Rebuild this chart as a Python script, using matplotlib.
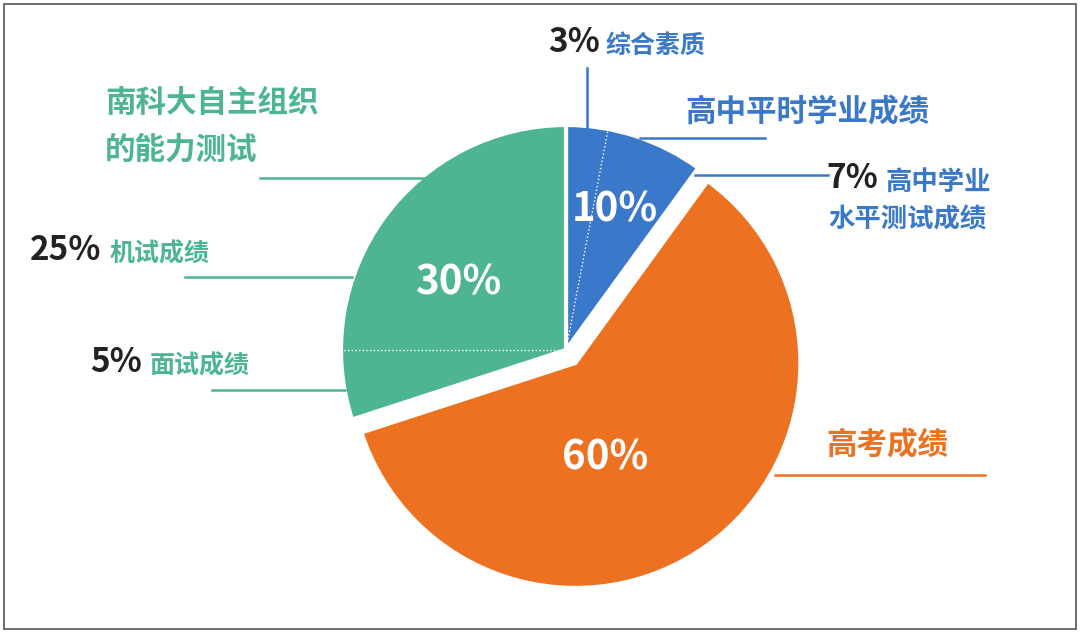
import matplotlib
matplotlib.use("Agg")
import matplotlib.pyplot as plt
from matplotlib.patches import Rectangle
import numpy as np

plt.rcParams["font.family"] = "Noto Sans CJK SC"

shares = [10, 60, 30]
share_labels = ["10%", "60%", "30%"]
colors = ["#3a78c9", "#ec7120", "#4db592"]
sub_splits = [3, 25]

H = 633
fig = plt.figure(figsize=(10.8, 6.33), dpi=100)
ax = fig.add_axes([0, 0, 1, 1])
ax.add_patch(Rectangle((4, 4), 1072, H - 8, fill=False, ec="#555555", lw=1.2))

cx, cy, r = 566, H - 350, 225
wedges, texts = ax.pie(shares, colors=colors, startangle=90, counterclock=False,
                       center=(cx, cy), radius=r, explode=[0, 16, 0],
                       wedgeprops=dict(lw=3, edgecolor="white"), frame=True)
ax.set_xlim(0, 1080); ax.set_ylim(0, H); ax.set_aspect("equal"); ax.axis("off")

a1 = np.deg2rad(90 - sub_splits[0] * 3.6)
ax.plot([cx, cx + r * np.cos(a1)], [cy, cy + r * np.sin(a1)], ls=":", color="white", lw=1)
ax.plot([cx, cx - r], [cy, cy], ls=":", color="white", lw=1)

pct_pos = [(615, 210), (605, 458), (458, 283)]
for (x, y), t in zip(pct_pos, share_labels):
    ax.text(x, H - y, t, color="white", fontsize=29, fontweight="bold", ha="center", va="center")

def line(x0, x1, y, c):
    ax.plot([x0, x1], [H - y, H - y], color=c, lw=1.8)

G, B, O, K = "#4db592", "#3a78c9", "#ec7120", "#222222"
fs = 22
pf = 24
ax.text(105, H - 103, "南科大自主组织", color=G, fontsize=fs, fontweight="bold", va="center")
ax.text(105, H - 150, "的能力测试", color=G, fontsize=fs, fontweight="bold", va="center")
line(260, 430, 178, G)
ax.text(30, H - 250, "25%", color=K, fontsize=pf, fontweight="bold", va="center")
ax.text(110, H - 254, "机试成绩", color=G, fontsize=18, fontweight="bold", va="center")
line(185, 352, 277, G)
ax.text(90, H - 362, "5%", color=K, fontsize=pf, fontweight="bold", va="center")
ax.text(150, H - 366, "面试成绩", color=G, fontsize=18, fontweight="bold", va="center")
line(212, 345, 390, G)

ax.text(548, H - 42, "3%", color=K, fontsize=pf, fontweight="bold", va="center")
ax.text(606, H - 46, "综合素质", color=B, fontsize=18, fontweight="bold", va="center")
ax.plot([587, 587], [H - 68, H - 130], color=B, lw=1.8)
ax.text(685, H - 112, "高中平时学业成绩", color=B, fontsize=fs, fontweight="bold", va="center")
line(640, 765, 138, B)
ax.text(826, H - 178, "7%", color=K, fontsize=pf, fontweight="bold", va="center")
ax.text(886, H - 182, "高中学业", color=B, fontsize=19, fontweight="bold", va="center")
ax.text(828, H - 220, "水平测试成绩", color=B, fontsize=19, fontweight="bold", va="center")
line(695, 828, 175, B)

ax.text(826, H - 445, "高考成绩", color=O, fontsize=fs, fontweight="bold", va="center")
line(775, 985, 475, O)

fig.savefig("out.png", dpi=100)
